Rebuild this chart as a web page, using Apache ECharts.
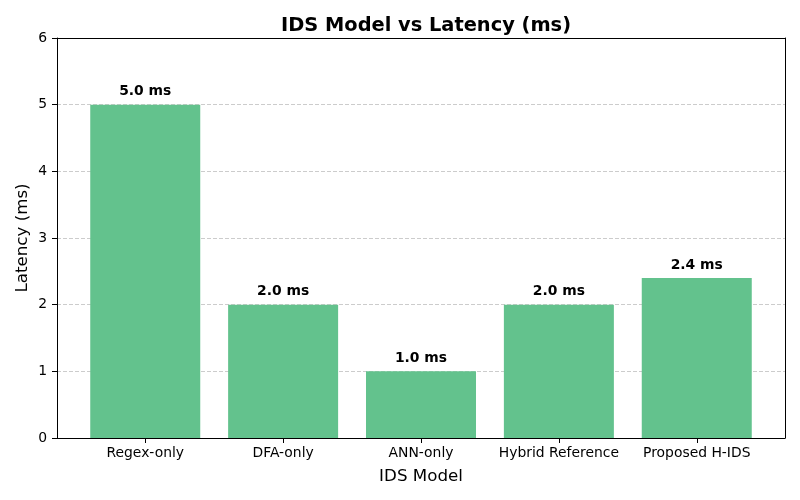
<!DOCTYPE html>
<html><head><meta charset="utf-8">
<script src="https://cdn.jsdelivr.net/npm/echarts@6/dist/echarts.min.js"></script>
<style>html,body{margin:0;padding:0;background:#fff}#c{width:800px;height:500px}</style>
</head><body><div id="c"></div>
<script>
const categories = ["Regex-only", "DFA-only", "ANN-only", "Hybrid Reference", "Proposed H-IDS"];
const latency = [5.0, 2.0, 1.0, 2.0, 2.4];
const yTicks = [0, 1, 2, 3, 4, 5, 6];

const font = "DejaVu Sans";
const idx = categories.map((_, i) => i);
const frameAxis = {
  axisLine: {show: true, onZero: false, lineStyle: {color: '#000', width: 1}},
  axisTick: {show: false}, axisLabel: {show: false}, splitLine: {show: false}
};
const chart = echarts.init(document.getElementById('c'), null, {renderer: 'canvas'});
chart.setOption({
  animation: false,
  backgroundColor: '#fff',
  title: {
    text: 'IDS Model vs Latency (ms)',
    left: 421, top: 11, textAlign: 'center',
    textStyle: {fontFamily: font, fontSize: 19.4, fontWeight: 'bold', color: '#000'}
  },
  grid: {left: 57, right: 15, top: 38, bottom: 62},
  xAxis: [{
    type: 'value', min: -0.64, max: 4.64,
    name: 'IDS Model', nameLocation: 'middle', nameGap: 30, nameMoveOverlap: false,
    nameTextStyle: {fontFamily: font, fontSize: 16.7, color: '#000'},
    axisLine: {show: true, onZero: false, lineStyle: {color: '#000'}},
    axisTick: {show: true, customValues: idx, length: 5, lineStyle: {color: '#000'}},
    axisLabel: {customValues: idx, formatter: v => categories[Math.round(v)], fontFamily: font, fontSize: 13.9, color: '#000', margin: 8},
    splitLine: {show: false}
  }, Object.assign({type: 'value', position: 'top', min: -0.64, max: 4.64}, frameAxis)],
  yAxis: [{
    type: 'value', min: 0, max: 6, interval: 1,
    name: 'Latency (ms)', nameLocation: 'middle', nameGap: 26, nameMoveOverlap: false,
    nameTextStyle: {fontFamily: font, fontSize: 16.7, color: '#000'},
    axisLine: {show: true, onZero: false, lineStyle: {color: '#000'}},
    axisTick: {show: true, length: 5, lineStyle: {color: '#000'}},
    axisLabel: {fontFamily: font, fontSize: 13.9, color: '#000', margin: 10, formatter: v => yTicks.includes(v) ? String(v) : ''},
    splitLine: {show: true, lineStyle: {color: '#cccccc', type: [4, 2], width: 1}}
  }, Object.assign({type: 'value', position: 'right', min: 0, max: 6}, frameAxis)],
  series: [{
    type: 'bar',
    data: latency.map((v, i) => [i, v]),
    barWidth: 110,
    itemStyle: {color: '#63c28d'},
    label: {show: true, position: 'top', distance: 6, formatter: p => p.value[1].toFixed(1) + ' ms',
      fontFamily: font, fontSize: 13.9, fontWeight: 'bold', color: '#000'}
  }]
});
</script></body></html>
